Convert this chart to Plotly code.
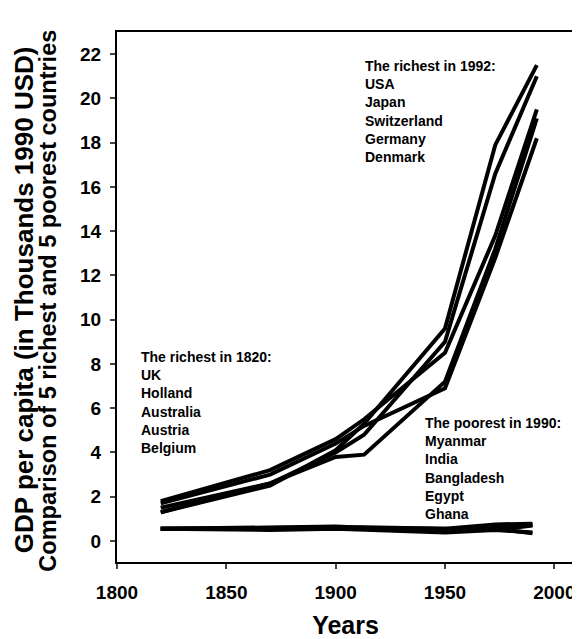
import plotly.graph_objects as go

# years of observation
years_rich = [1820, 1870, 1900, 1913, 1950, 1973, 1992]
years_poor = [1820, 1870, 1900, 1913, 1950, 1973, 1990]

# GDP per capita, thousands of 1990 USD
rich_a = [1.3, 2.5, 4.1, 5.3, 9.6, 17.9, 21.5]
rich_b = [1.5, 2.6, 4.0, 4.8, 9.0, 16.6, 21.0]
rich_c = [1.8, 3.2, 4.6, 5.5, 8.5, 13.8, 19.5]
rich_d = [1.3, 2.6, 3.8, 3.9, 7.2, 13.2, 19.1]
rich_e = [1.7, 3.0, 4.4, 5.2, 6.9, 12.8, 18.2]

poor_a = [0.55, 0.62, 0.65, 0.6, 0.55, 0.75, 0.78]
poor_b = [0.55, 0.55, 0.6, 0.55, 0.45, 0.6, 0.72]
poor_c = [0.55, 0.5, 0.55, 0.5, 0.38, 0.5, 0.38]
poor_d = [0.55, 0.55, 0.58, 0.55, 0.42, 0.55, 0.35]
poor_e = [0.55, 0.6, 0.62, 0.62, 0.55, 0.5, 0.7]

rich_series = [rich_a, rich_b, rich_c, rich_d, rich_e]
poor_series = [poor_a, poor_b, poor_c, poor_d, poor_e]

x_ticks = [1800, 1850, 1900, 1950, 2000]
y_ticks = list(range(0, 23, 2))

FONT = "Liberation Sans, Arial, sans-serif"

fig = go.Figure()
for s in rich_series:
    fig.add_trace(go.Scatter(x=years_rich, y=s, mode="lines",
                             line=dict(color="black", width=4)))
for s in poor_series:
    fig.add_trace(go.Scatter(x=years_poor, y=s, mode="lines",
                             line=dict(color="black", width=4)))

notes = [
    (1912.3, 21.9, "The richest in 1992:<br>USA<br>Japan<br>Switzerland<br>Germany<br>Denmark"),
    (1810.0, 8.75, "The richest in 1820:<br>UK<br>Holland<br>Australia<br>Austria<br>Belgium"),
    (1940.0, 5.8, "The poorest in 1990:<br>Myanmar<br>India<br>Bangladesh<br>Egypt<br>Ghana"),
]
for x, y, t in notes:
    fig.add_annotation(x=x, y=y, xref="x", yref="y", text=t, showarrow=False,
                       xanchor="left", yanchor="top", align="left",
                       font=dict(family=FONT, size=14, color="black", weight="bold"))

# y axis title, two lines of different width in the original
fig.add_annotation(x=-0.2035, y=0.494, xref="paper", yref="paper", showarrow=False,
                   text="GDP per capita (in Thousands 1990 USD)", textangle=-90,
                   xanchor="center", yanchor="middle",
                   font=dict(family=FONT, size=26, color="black", weight="bold"))
fig.add_annotation(x=-0.150, y=0.494, xref="paper", yref="paper", showarrow=False,
                   text="Comparison of 5 richest and 5 poorest countries", textangle=-90,
                   xanchor="center", yanchor="middle",
                   font=dict(family=FONT, size=23.5, color="black", weight="bold"))

# page body adds an 8px offset, so the figure is 8px smaller than the window
fig.update_layout(
    width=572, height=631,
    margin=dict(l=109, r=6, t=24, b=77),
    paper_bgcolor="white", plot_bgcolor="white",
    showlegend=False,
    font=dict(family=FONT, color="black"),
)
fig.update_xaxes(
    range=[1800, 2009], tickvals=x_ticks, ticks="outside", ticklen=5, tickwidth=1.5,
    showline=True, linecolor="black", linewidth=2, mirror=True, showgrid=False, zeroline=False,
    tickfont=dict(family=FONT, size=19, weight="bold"), ticklabelstandoff=7,
    title=dict(text="Years", font=dict(family=FONT, size=25, weight="bold"), standoff=17),
    automargin=False,
)
fig.update_yaxes(
    range=[-0.95, 23.0], tickvals=y_ticks, ticks="outside", ticklen=5, tickwidth=1.5,
    showline=True, linecolor="black", linewidth=2, mirror=True, showgrid=False, zeroline=False,
    tickfont=dict(family=FONT, size=19, weight="bold"), ticklabelstandoff=5,
    automargin=False,
)

fig.write_html("out.html")
